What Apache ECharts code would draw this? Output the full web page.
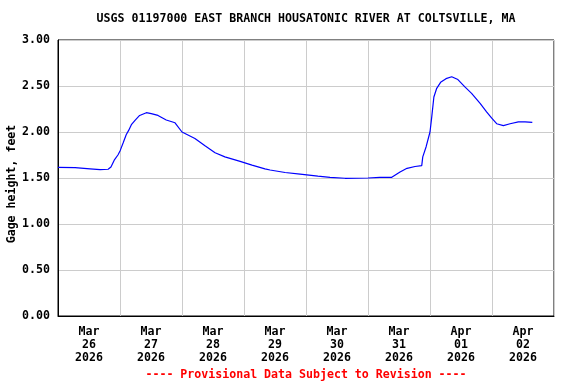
<!DOCTYPE html>
<html>
<head>
<meta charset="utf-8">
<script src="https://cdn.jsdelivr.net/npm/echarts@6/dist/echarts.min.js"></script>
<style>html,body{margin:0;padding:0;background:#fff}#c{width:576px;height:384px}</style>
</head>
<body>
<div id="c"></div>
<script>
var titleText = 'USGS 01197000 EAST BRANCH HOUSATONIC RIVER AT COLTSVILLE, MA';
var footText = '---- Provisional Data Subject to Revision ----';
var yName = 'Gage height, feet';
var dayLabels = ['Mar\n26\n2026','Mar\n27\n2026','Mar\n28\n2026','Mar\n29\n2026','Mar\n30\n2026','Mar\n31\n2026','Apr\n01\n2026','Apr\n02\n2026'];
var startTime = '2026-03-26 00:00';
var endTime = '2026-04-03 00:00';
var yTicks = [0, 0.5, 1.0, 1.5, 2.0, 2.5, 3.0];
// hours since Mar 26 00:00
var hours = [0, 6.6, 12.4, 16.3, 19.4, 20.5, 21.9, 23.2, 24.1, 25.2, 26.4, 27.4, 28.4, 29.9, 31.6, 34.2, 36.1, 38.7, 41.9, 45.3, 48.0, 53.0, 56.9, 60.8, 64.6, 70.5, 75.1, 80.1, 82.1, 87.9, 93.7, 100.6, 105.3, 111.1, 120.0, 124.6, 129.2, 132.4, 135.1, 138.2, 140.8, 141.2, 142.5, 144.0, 144.7, 145.5, 146.6, 148.1, 150.2, 152.4, 154.8, 157.5, 160.1, 163.4, 165.9, 167.9, 169.8, 172.4, 175.0, 178.2, 180.8, 183.6];
var gage = [1.616, 1.612, 1.60, 1.59, 1.595, 1.62, 1.70, 1.75, 1.80, 1.88, 1.97, 2.02, 2.08, 2.13, 2.18, 2.21, 2.20, 2.18, 2.13, 2.10, 2.00, 1.93, 1.85, 1.775, 1.73, 1.68, 1.64, 1.60, 1.587, 1.56, 1.543, 1.52, 1.507, 1.497, 1.50, 1.507, 1.507, 1.565, 1.605, 1.625, 1.635, 1.73, 1.84, 2.00, 2.17, 2.38, 2.475, 2.54, 2.58, 2.60, 2.57, 2.49, 2.42, 2.31, 2.22, 2.15, 2.09, 2.07, 2.09, 2.11, 2.11, 2.105];

var t0 = echarts.time.parse(startTime).getTime();
var t1 = echarts.time.parse(endTime).getTime();
var seriesData = hours.map(function (h, i) { return [t0 + h * 3600000, gage[i]]; });

var FONT = 'DejaVu Sans Mono';
var chart = echarts.init(document.getElementById('c'), null, {renderer: 'canvas'});
chart.setOption({
  animation: false,
  backgroundColor: '#fff',
  graphic: [{
    type: 'text', x: 306, y: 19,
    style: {text: titleText, align: 'center', verticalAlign: 'middle', fill: '#000', font: 'bold 11.6px "DejaVu Sans Mono"'}
  }, {
    type: 'text', x: 306, y: 375,
    style: {text: footText, align: 'center', verticalAlign: 'middle', fill: '#ff0000', font: 'bold 11.6px "DejaVu Sans Mono"'}
  }, {
    type: 'text', x: 12, y: 184, rotation: Math.PI / 2,
    style: {text: yName, align: 'center', verticalAlign: 'middle', fill: '#000', font: 'bold 11.6px "DejaVu Sans Mono"'}
  }],
  grid: {left: 58, top: 40, width: 496, height: 276, containLabel: false, outerBoundsMode: 'none',
    show: true, borderColor: '#000', borderWidth: 1, backgroundColor: 'transparent'},
  xAxis: [{
    type: 'category', data: dayLabels, boundaryGap: true, gridIndex: 0,
    axisLine: {show: true, lineStyle: {color: '#000'}},
    axisTick: {show: false},
    splitLine: {show: true, lineStyle: {color: '#cccccc', width: 1}},
    axisLabel: {fontFamily: FONT, fontSize: 11.6, fontWeight: 'bold', color: '#000', lineHeight: 13, margin: 9}
  }, {
    type: 'time', min: t0, max: t1, gridIndex: 0, show: false
  }],
  yAxis: {
    type: 'value', min: yTicks[0], max: yTicks[yTicks.length - 1], interval: 0.5,
    axisLine: {show: true, lineStyle: {color: '#000'}},
    axisTick: {show: false},
    splitLine: {show: true, lineStyle: {color: '#cccccc', width: 1}},
    axisLabel: {fontFamily: FONT, fontSize: 11.6, fontWeight: 'bold', color: '#000', margin: 8,
      formatter: function (v) { return v.toFixed(2); }}
  },
  series: [{
    type: 'line', xAxisIndex: 1, data: seriesData, showSymbol: false,
    lineStyle: {color: '#0000ff', width: 1.2}, itemStyle: {color: '#0000ff'}
  }]
});
</script>
</body>
</html>
